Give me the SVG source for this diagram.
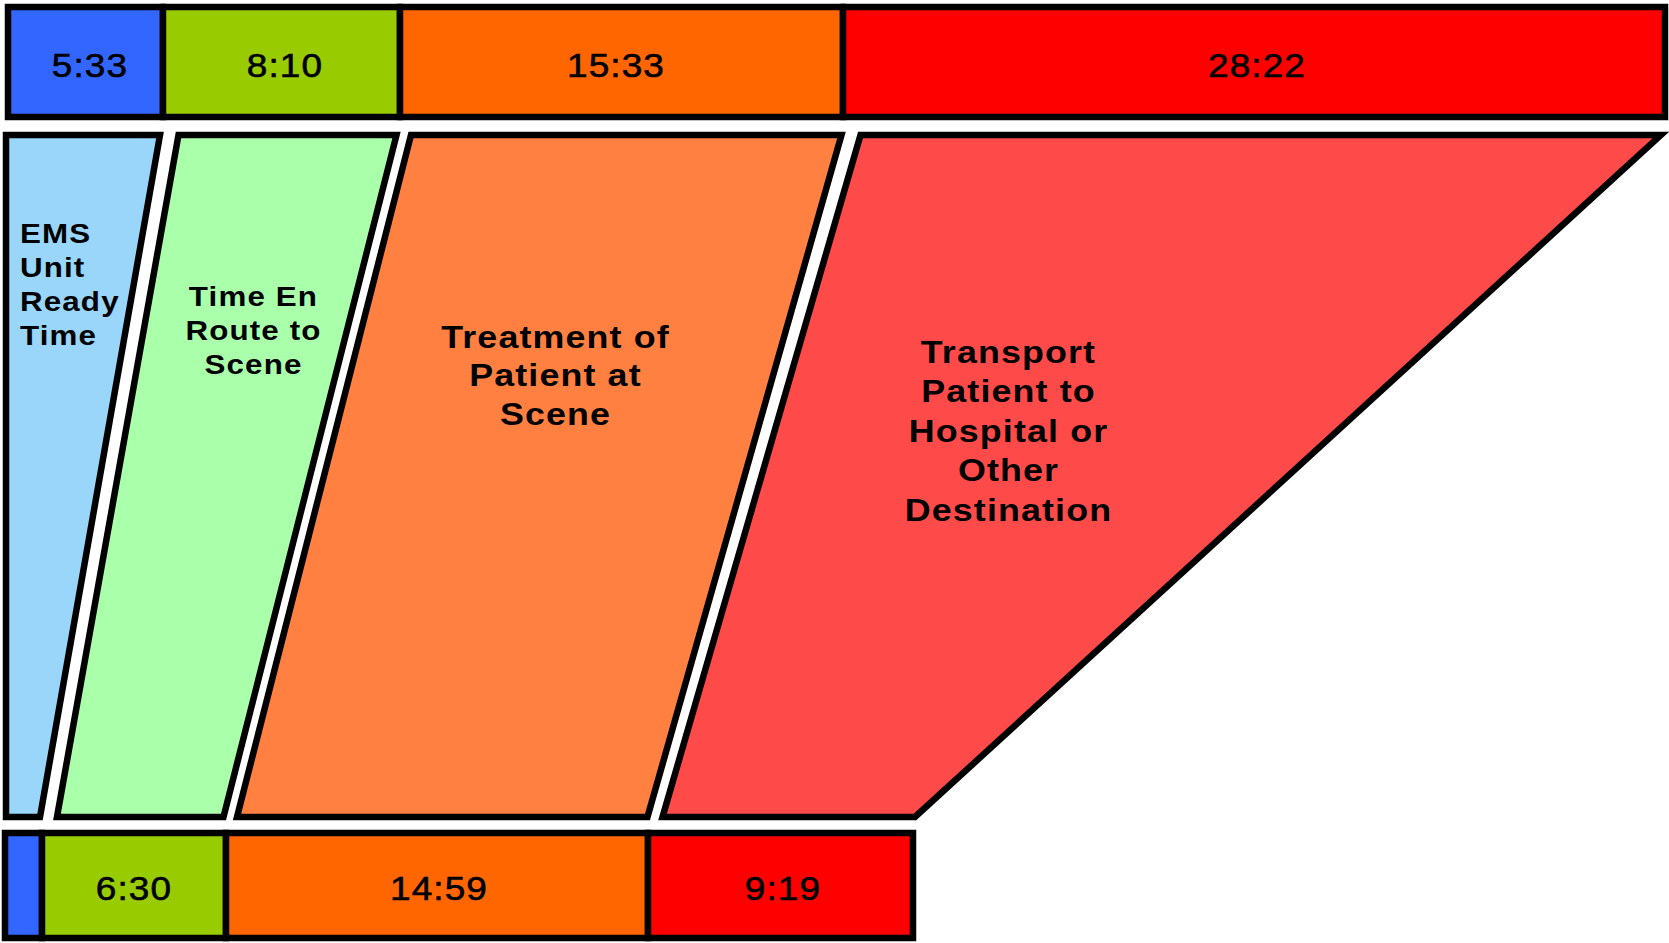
<svg xmlns="http://www.w3.org/2000/svg" width="1669" height="943" viewBox="0 0 1669 943">
<style>
.cell{stroke:#000;stroke-width:6.5;stroke-linejoin:miter}
.shape{stroke:#000;stroke-width:6.5;stroke-linejoin:miter;stroke-miterlimit:10}
.num{font-family:"Liberation Sans",Arial,sans-serif;font-size:33px;letter-spacing:1px;text-anchor:middle;fill:#000;stroke:#000;stroke-width:0.6}
.lbl{font-family:"Liberation Sans",Arial,sans-serif;font-weight:bold;letter-spacing:1px;fill:#000}
.s28{font-size:28px}
.s32{font-size:32px}
.mid{text-anchor:middle}
.blue{fill:#3366FF}.green{fill:#99CC00}.orange{fill:#FF6600}.red{fill:#FF0000}
</style>
<rect width="1669" height="943" fill="#FFFFFF"/>
<g id="top-bar">
  <g id="top-ready"><rect class="cell blue" x="8" y="7" width="155" height="110"/><text class="num" x="90" y="77" transform="matrix(1.12 0 0 1 -10.8 0)">5:33</text></g>
  <g id="top-enroute"><rect class="cell green" x="163" y="7" width="237" height="110"/><text class="num" x="285" y="77" transform="matrix(1.12 0 0 1 -34.2 0)">8:10</text></g>
  <g id="top-scene"><rect class="cell orange" x="400" y="7" width="443" height="110"/><text class="num" x="616" y="77" transform="matrix(1.12 0 0 1 -73.92 0)">15:33</text></g>
  <g id="top-transport"><rect class="cell red" x="843" y="7" width="822" height="110"/><text class="num" x="1257" y="77" transform="matrix(1.12 0 0 1 -150.84 0)">28:22</text></g>
</g>
<g id="phases">
  <g id="phase-ready">
    <polygon class="shape" fill="#99D6FA" points="6,135 160,135 40,817 6,817"/>
    <g transform="matrix(1.12 0 0 1 -2.4 0)">
      <text class="lbl s28" x="20" y="243">EMS</text>
      <text class="lbl s28" x="20" y="277">Unit</text>
      <text class="lbl s28" x="20" y="311">Ready</text>
      <text class="lbl s28" x="20" y="345">Time</text>
    </g>
  </g>
  <g id="phase-enroute">
    <polygon class="shape" fill="#AAFFAA" points="178.5,135 396.5,135 223.5,817 57,817"/>
    <g transform="matrix(1.12 0 0 1 -30.42 0)">
      <text class="lbl s28 mid" x="253.5" y="306">Time En</text>
      <text class="lbl s28 mid" x="253.5" y="340">Route to</text>
      <text class="lbl s28 mid" x="253.5" y="374">Scene</text>
    </g>
  </g>
  <g id="phase-scene">
    <polygon class="shape" fill="#FF8040" points="411,135 841.5,135 647.5,817 237,817"/>
    <g transform="matrix(1.12 0 0 1 -66.66 0)">
      <text class="lbl s32 mid" x="555.5" y="348">Treatment of</text>
      <text class="lbl s32 mid" x="555.5" y="386.5">Patient at</text>
      <text class="lbl s32 mid" x="555.5" y="425">Scene</text>
    </g>
  </g>
  <g id="phase-transport">
    <polygon class="shape" fill="#FF4A4A" points="860.5,135 1661,135 915,817 662.5,817"/>
    <g transform="matrix(1.12 0 0 1 -121.02 0)">
      <text class="lbl s32 mid" x="1008.5" y="363">Transport</text>
      <text class="lbl s32 mid" x="1008.5" y="402.5">Patient to</text>
      <text class="lbl s32 mid" x="1008.5" y="442">Hospital or</text>
      <text class="lbl s32 mid" x="1008.5" y="481.5">Other</text>
      <text class="lbl s32 mid" x="1008.5" y="521">Destination</text>
    </g>
  </g>
</g>
<g id="bottom-bar">
  <g id="bottom-ready"><rect class="cell blue" x="5" y="833" width="37" height="105"/></g>
  <g id="bottom-enroute"><rect class="cell green" x="42" y="833" width="184" height="105"/><text class="num" x="134" y="900" transform="matrix(1.12 0 0 1 -16.08 0)">6:30</text></g>
  <g id="bottom-scene"><rect class="cell orange" x="226" y="833" width="422" height="105"/><text class="num" x="439" y="900" transform="matrix(1.12 0 0 1 -52.68 0)">14:59</text></g>
  <g id="bottom-transport"><rect class="cell red" x="648" y="833" width="265" height="105"/><text class="num" x="783" y="900" transform="matrix(1.12 0 0 1 -93.96 0)">9:19</text></g>
</g>
<g id="connectors"/>
</svg>
